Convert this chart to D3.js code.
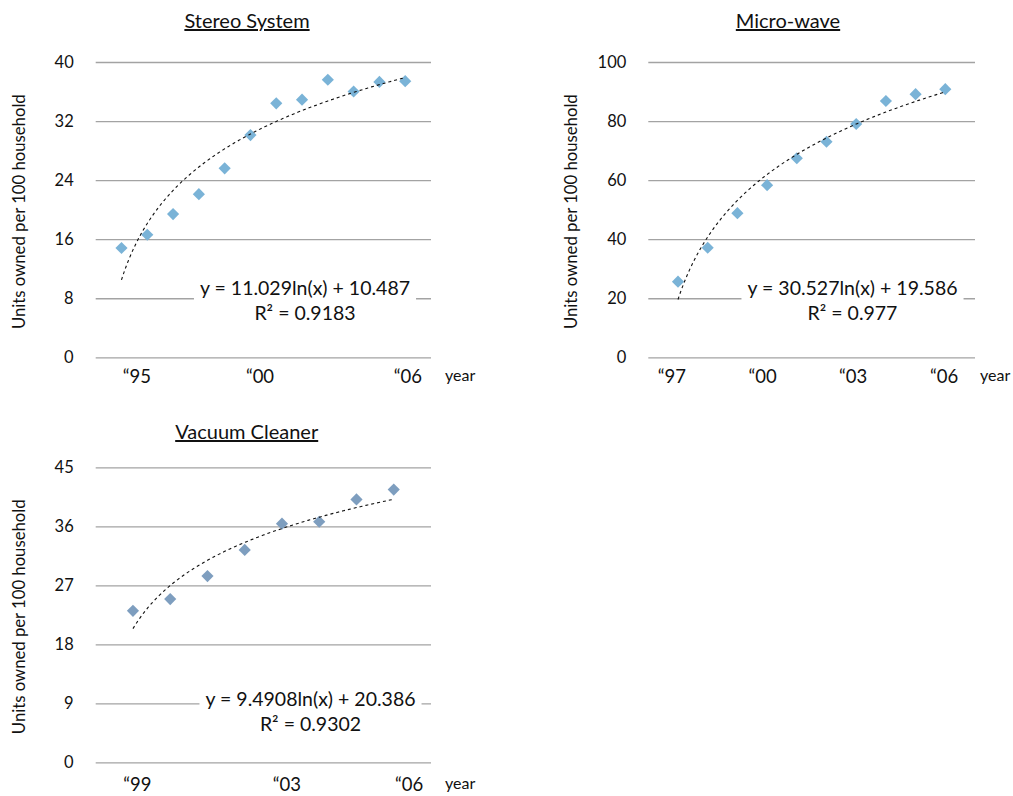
<!DOCTYPE html>
<html>
<head>
<meta charset="utf-8">
<script src="https://cdn.jsdelivr.net/npm/d3@7"></script>
<style>
  html, body { margin: 0; padding: 0; background: #fff; }
  svg { display: block; font-family: Lato, "Open Sans", sans-serif; }
</style>
</head>
<body>
<svg id="chart" width="1013" height="796"></svg>
<script>
// Household ownership (units per 100 households), one value per year
const stereoValues = [14.8, 16.6, 19.4, 22.1, 25.6, 30.1, 34.4, 34.9, 37.6, 36.0, 37.3, 37.4]; // 1995–2006
const microValues  = [25.6, 37.1, 48.8, 58.3, 67.4, 73.0, 79.0, 86.8, 89.1, 90.8];             // 1997–2006
const vacuumValues = [23.1, 24.9, 28.4, 32.4, 36.4, 36.7, 40.1, 41.6];                         // 1999–2006

// Logarithmic trend fits: y = a·ln(x) + b, with R²
const stereoFit = { a: 11.029, b: 10.487, r2: 0.9183 };
const microFit  = { a: 30.527, b: 19.586, r2: 0.977 };
const vacuumFit = { a: 9.4908, b: 20.386, r2: 0.9302 };

// Value axis ticks
const stereoYTicks = [0, 8, 16, 24, 32, 40];
const microYTicks  = [0, 20, 40, 60, 80, 100];
const vacuumYTicks = [0, 9, 18, 27, 36, 45];

// Year labels and where they sit along the x axis (point index units)
const stereoXLabels = ["\u201C95", "\u201C00", "\u201C06"];
const stereoXAt     = [1.6, 6.37, 12.1];
const microXLabels  = ["\u201C97", "\u201C00", "\u201C03", "\u201C06"];
const microXAt      = [0.79, 3.85, 6.9, 9.96];
const vacuumXLabels = ["\u201C99", "\u201C03", "\u201C06"];
const vacuumXAt     = [1.12, 5.13, 8.41];

const titles = ["Stereo System", "Micro-wave", "Vacuum Cleaner"];
const yAxisTitle = "Units owned per 100 household";
const xAxisTitle = "year";

const panels = [
  { title: titles[0], values: stereoValues, fit: stereoFit, yTicks: stereoYTicks,
    xLabels: stereoXLabels, xAt: stereoXAt, color: "#7ab3d7",
    box: { left: 95.7, right: 431, top: 62, bottom: 357.3 },
    eq: { cx: 305, y: 295 }, xLabelDy: 26, yearX: 445, titleX: 247, titleY: 28 },
  { title: titles[1], values: microValues, fit: microFit, yTicks: microYTicks,
    xLabels: microXLabels, xAt: microXAt, color: "#7ab3d7",
    box: { left: 648.3, right: 975, top: 62, bottom: 357.3 },
    eq: { cx: 852.5, y: 295 }, xLabelDy: 26, yearX: 980, titleX: 788, titleY: 28 },
  { title: titles[2], values: vacuumValues, fit: vacuumFit, yTicks: vacuumYTicks,
    xLabels: vacuumXLabels, xAt: vacuumXAt, color: "#7e9ebf",
    box: { left: 95.7, right: 431, top: 467.3, bottom: 762.3 },
    eq: { cx: 310.5, y: 706 }, xLabelDy: 29, yearX: 445, titleX: 246.7, titleY: 439 }
];

const svg = d3.select("#chart");
const diamond = d3.symbol().type(d3.symbolSquare).size(74);

panels.forEach(p => {
  const g = svg.append("g");
  const n = p.values.length;
  const x = d3.scaleLinear().domain([0, n + 1]).range([p.box.left, p.box.right]);
  const yMax = p.yTicks[p.yTicks.length - 1];
  const y = d3.scaleLinear().domain([0, yMax]).range([p.box.bottom, p.box.top]);

  // Horizontal gridlines + value labels
  const yAxis = d3.axisLeft(y).tickValues(p.yTicks).tickSize(-(p.box.right - p.box.left)).tickPadding(22);
  const ya = g.append("g").attr("transform", `translate(${p.box.left},0)`).call(yAxis);
  ya.select(".domain").remove();
  ya.selectAll(".tick line").attr("stroke", "#a3a3a3").attr("stroke-width", 1.3);
  ya.selectAll(".tick text").attr("font-size", 16.5).attr("fill", "#111").attr("font-family", "Lato, sans-serif");

  // Year labels
  g.selectAll(".xlab").data(p.xLabels).enter().append("text")
    .attr("x", (d, i) => x(p.xAt[i]))
    .attr("y", p.box.bottom + p.xLabelDy)
    .attr("text-anchor", "middle")
    .attr("font-size", 18.5)
    .attr("fill", "#111")
    .text(d => d);

  g.append("text")
    .attr("x", p.yearX).attr("y", p.box.bottom + p.xLabelDy - 2)
    .attr("font-size", 16).attr("fill", "#111")
    .text(xAxisTitle);

  // Rotated value-axis title
  g.append("text")
    .attr("transform", `translate(${p.box.left - 77},${(p.box.top + p.box.bottom) / 2 + 2}) rotate(-90)`)
    .attr("text-anchor", "middle")
    .attr("dominant-baseline", "central")
    .attr("font-size", 16.7).attr("fill", "#111")
    .text(yAxisTitle);

  // Chart title, underlined
  g.append("text")
    .attr("x", p.titleX).attr("y", p.titleY)
    .attr("text-anchor", "middle")
    .attr("font-size", 20).attr("fill", "#111")
    .style("text-decoration", "underline")
    .text(p.title);

  // Data points as diamonds
  g.selectAll(".pt").data(p.values).enter().append("path")
    .attr("d", diamond)
    .attr("transform", (d, i) => `translate(${x(i + 1)},${y(d)}) rotate(45)`)
    .attr("fill", p.color);

  // Logarithmic trendline
  const xs = d3.range(1, n + 0.0001, 0.05);
  const line = d3.line().x(d => x(d)).y(d => y(p.fit.a * Math.log(d) + p.fit.b));
  g.append("path").datum(xs)
    .attr("d", line)
    .attr("fill", "none")
    .attr("stroke", "#111")
    .attr("stroke-width", 1.1)
    .attr("stroke-dasharray", "3,3");

  // Trendline equation on a white label box
  const eqG = g.append("g");
  const bg = eqG.append("rect").attr("fill", "#fff");
  eqG.append("text")
    .attr("x", p.eq.cx).attr("y", p.eq.y)
    .attr("text-anchor", "middle").attr("font-size", 19.5).attr("fill", "#111")
    .text(`y = ${p.fit.a}ln(x) + ${p.fit.b}`);
  eqG.append("text")
    .attr("x", p.eq.cx).attr("y", p.eq.y + 25)
    .attr("text-anchor", "middle").attr("font-size", 19.5).attr("fill", "#111")
    .text(`R\u00B2 = ${p.fit.r2}`);
  const bb = eqG.node().getBBox();
  bg.attr("x", bb.x - 6).attr("y", bb.y - 2).attr("width", bb.width + 12).attr("height", bb.height + 4);
});
</script>
</body>
</html>
